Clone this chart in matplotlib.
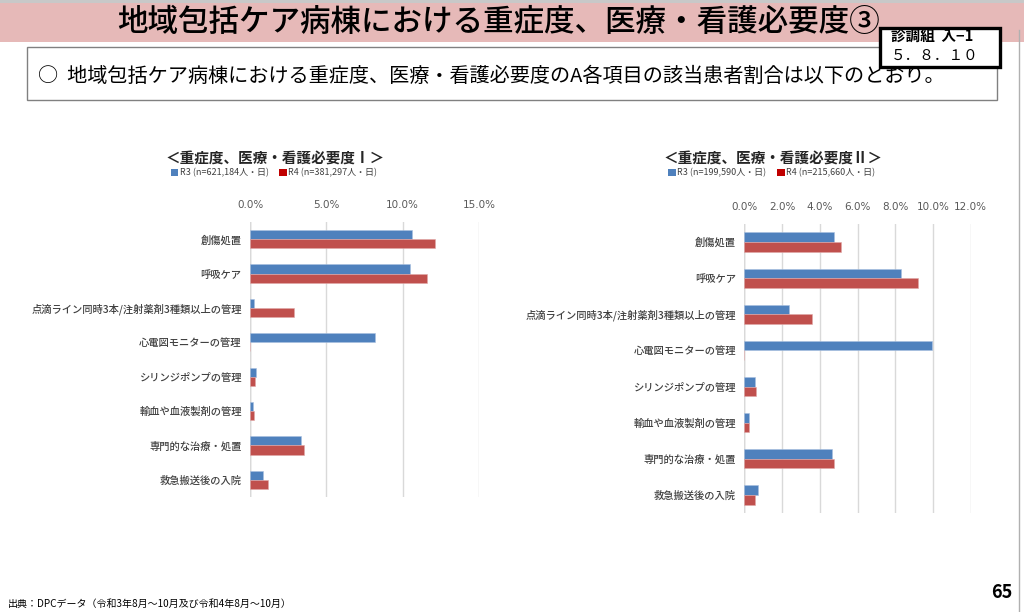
import matplotlib
matplotlib.use("Agg")
import matplotlib.pyplot as plt
from matplotlib.patches import Rectangle, Patch
import numpy as np

plt.rcParams['font.family'] = ['Noto Sans CJK JP', 'DejaVu Sans']

categories = ["創傷処置", "呼吸ケア", "点滴ライン同時3本/注射薬剤3種類以上の管理",
              "心電図モニターの管理", "シリンジポンプの管理", "輸血や血液製剤の管理",
              "専門的な治療・処置", "救急搬送後の入院"]

# 重症度、医療・看護必要度Ⅰ (%)
r3_I = [10.6, 10.5, 0.26, 8.2, 0.39, 0.2, 3.33, 0.87]
r4_I = [12.1, 11.6, 2.9, 0.0, 0.35, 0.26, 3.53, 1.15]
# 重症度、医療・看護必要度Ⅱ (%)
r3_II = [4.77, 8.28, 2.37, 9.96, 0.57, 0.27, 4.67, 0.71]
r4_II = [5.13, 9.23, 3.57, 0.0, 0.62, 0.27, 4.74, 0.55]

ticks_I = [0, 5, 10, 15]
ticks_II = [0, 2, 4, 6, 8, 10, 12]

legend_I = ["R3 (n=621,184人・日)", "R4 (n=381,297人・日)"]
legend_II = ["R3 (n=199,590人・日)", "R4 (n=215,660人・日)"]

BLUE = "#4F81BD"
RED = "#C0504D"

W, H = 1024, 612
fig = plt.figure(figsize=(W / 100, H / 100), dpi=100)
fig.patch.set_facecolor("white")


def px_axes(x0, y0, x1, y1):
    return fig.add_axes([x0 / W, 1 - y1 / H, (x1 - x0) / W, (y1 - y0) / H])


# header band
fig.patches.append(Rectangle((0, 1 - 42 / H), 1, 42 / H, transform=fig.transFigure,
                             facecolor="#E6B9B8", edgecolor="none", zorder=0))
fig.patches.append(Rectangle((0, 1 - 3 / H), 1, 3 / H, transform=fig.transFigure,
                             facecolor="#C8C8C8", edgecolor="none", zorder=0))
fig.text(498 / W, 1 - 22 / H, "地域包括ケア病棟における重症度、医療・看護必要度③",
         ha="center", va="center", fontsize=22, fontweight="medium", color="black")

# top right box
fig.patches.append(Rectangle((880 / W, 1 - 67 / H), 120 / W, 39 / H, transform=fig.transFigure,
                             facecolor="white", edgecolor="black", linewidth=2.4, zorder=3))
fig.text(891 / W, 1 - 37 / H, "診調組  入−1", ha="left", va="center", fontsize=10.5,
         fontweight="bold", zorder=4)
fig.text(891 / W, 1 - 56 / H, "５．８．１０", ha="left", va="center", fontsize=10.5,
         zorder=4)

# subtitle box
fig.patches.append(Rectangle((27 / W, 1 - 100 / H), 970 / W, 53 / H, transform=fig.transFigure,
                             facecolor="white", edgecolor="#808080", linewidth=1.0, zorder=1))
fig.text(38 / W, 1 - 76 / H,
         "○  地域包括ケア病棟における重症度、医療・看護必要度のA各項目の該当患者割合は以下のとおり。",
         ha="left", va="center", fontsize=14.5, zorder=2)

# footer
fig.text(8 / W, 1 - 604 / H, "出典：DPCデータ（令和3年8月～10月及び令和4年8月～10月）",
         ha="left", va="center", fontsize=7.2)
fig.text(1012 / W, 1 - 592 / H, "65", ha="right", va="center", fontsize=13, fontweight="bold")
fig.lines.append(plt.Line2D([1019 / W, 1019 / W], [0, 1 - 30 / H], transform=fig.transFigure,
                            color="#B0B0B0", linewidth=1))


def draw(ax, r3, r4, ticks, xmax):
    y = np.arange(len(categories))
    h = 0.265
    ax.barh(y - h / 2, r3, height=h, color=BLUE, edgecolor="#A8C0E0", linewidth=0.4, zorder=3)
    ax.barh(y + h / 2, r4, height=h, color=RED, edgecolor="#E0A8A8", linewidth=0.4, zorder=3)
    ax.set_ylim(len(categories) - 0.5, -0.5)
    ax.set_xlim(0, xmax)
    ax.set_xticks(ticks)
    ax.set_xticklabels([f"{t:.1f}%" for t in ticks], fontsize=7.5, color="#595959",
                       family=["DejaVu Sans"])
    ax.xaxis.tick_top()
    ax.tick_params(axis="x", length=0, pad=9)
    ax.set_yticks(y)
    ax.set_yticklabels(categories, fontsize=7.4, color="#404040", fontweight="medium")
    ax.tick_params(axis="y", length=0, pad=6)
    for s in ax.spines.values():
        s.set_visible(False)
    ax.grid(axis="x", color="#D9D9D9", linewidth=1, zorder=0)
    ax.axvline(0, color="#BFBFBF", linewidth=1, zorder=1)
    ax.set_facecolor("none")


ax1 = px_axes(250, 222, 479, 497)
draw(ax1, r3_I, r4_I, ticks_I, 15)
ax2 = px_axes(744.3, 224, 970.7, 513)
draw(ax2, r3_II, r4_II, ticks_II, 12)

fig.text(275 / W, 1 - 159 / H, "＜重症度、医療・看護必要度Ⅰ＞", ha="center", va="center",
         fontsize=10.5, fontweight="bold", color="#262626")
fig.text(773 / W, 1 - 159 / H, "＜重症度、医療・看護必要度Ⅱ＞", ha="center", va="center",
         fontsize=10.5, fontweight="bold", color="#262626")


def legend(xc, labels):
    handles = [Patch(facecolor=BLUE), Patch(facecolor="#C00000")]
    fig.legend(handles, labels, loc="center", bbox_to_anchor=(xc / W, 1 - 173 / H),
               ncol=2, frameon=False, fontsize=6.5, handlelength=0.8, handleheight=0.8,
               handletextpad=0.2, columnspacing=1.2, labelcolor="#404040")


legend(274, legend_I)
legend(772, legend_II)

fig.savefig("out.png", dpi=100)
